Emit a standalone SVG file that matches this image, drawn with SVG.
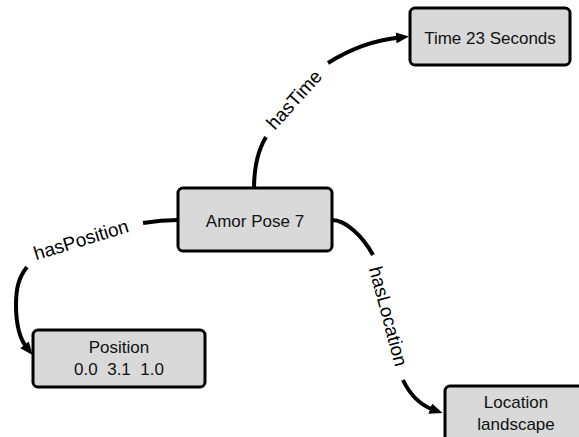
<svg xmlns="http://www.w3.org/2000/svg" width="579" height="437" viewBox="0 0 579 437">
  <style>
    .box { fill: #d9d9d9; stroke: #000; stroke-width: 3; }
    .txt { font-family: "Liberation Sans", Arial, sans-serif; font-size: 17px; fill: #111; text-anchor: middle; }
    .edge { fill: none; stroke: #000; stroke-width: 4; }
    .lbl { font-family: "Liberation Sans", Arial, sans-serif; font-size: 19px; fill: #000; text-anchor: middle; }
  </style>
  <defs>
    <marker id="arrow" markerUnits="userSpaceOnUse" markerWidth="13" markerHeight="11" refX="4" refY="5.5" orient="auto">
      <path d="M0,0 L13,5.5 L0,11 z" fill="#000"/>
    </marker>
  </defs>

  <g id="connectors">
    <!-- hasTime -->
    <path class="edge" d="M254 189 C254 166 258 150 266 137"/>
    <path class="edge" d="M328 63 C350 49 375 40 400 37.5" marker-end="url(#arrow)"/>
    <text class="lbl" transform="translate(299 104) rotate(-48)">hasTime</text>
    <!-- hasPosition -->
    <path class="edge" d="M178 220 C165 220 155 221 143 223"/>
    <path class="edge" d="M27 267 C18 278 16 290 16 305 C16 325 19 338 27 348" marker-end="url(#arrow)"/>
    <text class="lbl" transform="translate(83 246) rotate(-17)">hasPosition</text>
    <!-- hasLocation -->
    <path class="edge" d="M332 220 C345 220 362 235 373 255"/>
    <path class="edge" d="M403 380 C410 395 420 405 434 410" marker-end="url(#arrow)"/>
    <text class="lbl" transform="translate(382 318) rotate(75)">hasLocation</text>
  </g>

  <g id="time">
    <rect class="box" x="410" y="8" width="160" height="57" rx="5"/>
    <text class="txt" x="490" y="44">Time 23 Seconds</text>
  </g>

  <g id="amor">
    <rect class="box" x="178" y="188" width="154" height="63" rx="5"/>
    <text class="txt" x="255" y="226.5">Amor Pose 7</text>
  </g>

  <g id="position">
    <rect class="box" x="33" y="330" width="172" height="57" rx="5"/>
    <text class="txt" x="119" y="353">Position</text>
    <text class="txt" x="119" y="375" style="white-space:pre">0.0  3.1  1.0</text>
  </g>

  <g id="location">
    <rect class="box" x="445" y="386" width="145" height="60" rx="5"/>
    <text class="txt" x="516" y="408">Location</text>
    <text class="txt" x="516" y="430">landscape</text>
  </g>
</svg>
